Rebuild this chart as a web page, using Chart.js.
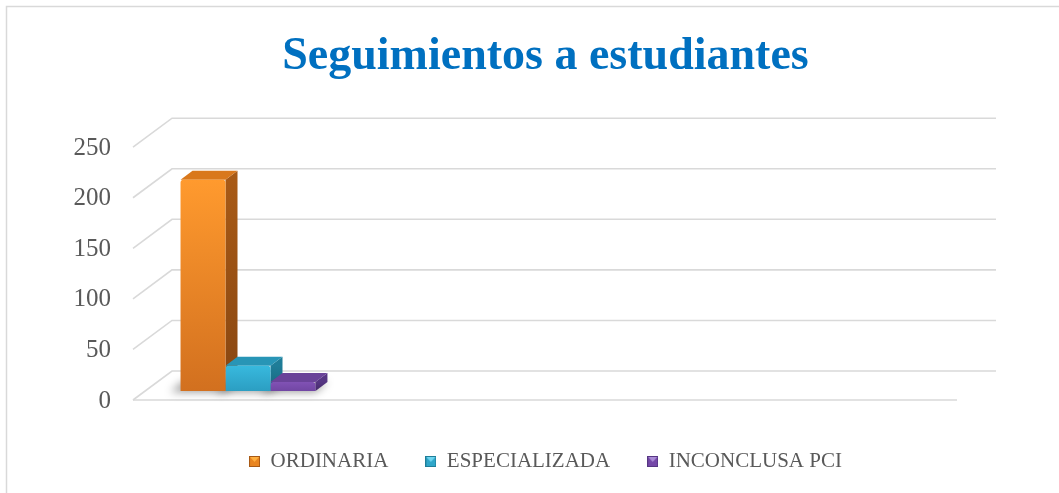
<!DOCTYPE html>
<html><head><meta charset="utf-8">
<script src="https://cdn.jsdelivr.net/npm/chart.js@4.4.1/dist/chart.umd.min.js"></script>
<style>html,body{margin:0;padding:0;background:#fff;} canvas{display:block}</style>
</head><body>
<canvas id="c" width="1059" height="493"></canvas>
<script>
// ---- data ----
const categories = ['', '', '', ''];
const seriesNames = ['ORDINARIA', 'ESPECIALIZADA', 'INCONCLUSA PCI'];
const ordinaria = [209, null, null, null];
const especializada = [25, null, null, null];
const inconclusa = [9, null, null, null];
const yTicks = [0, 50, 100, 150, 200, 250];
const titleText = 'Seguimientos a estudiantes';

// ---- styles ----
const palette = [
  {top:'#FF9A2E', bottom:'#D2701F', side:'#A85A16', sideDark:'#884611', cap:'#D9781C', legend:'#E98520', legendLight:'#FFB040'},
  {top:'#38B9DE', bottom:'#2B9EC2', side:'#1F7D98', sideDark:'#17657C', cap:'#2895B6', legend:'#2FA6C9', legendLight:'#6FD5F0'},
  {top:'#8152B5', bottom:'#7146A3', side:'#563683', sideDark:'#452A6B', cap:'#6A4399', legend:'#7548A8', legendLight:'#A98BD6'}
];
const FRONT = {dx:-12, dy:9};
const BACK = {dx:27, dy:-20};
const DEPTH = {dx:12, dy:-9};
const gridColor = '#D9D9D9';
const textColor = '#595959';

function makeMarker(p){
  const c = document.createElement('canvas');
  c.width = 11; c.height = 11;
  const g = c.getContext('2d');
  g.fillStyle = p.side; g.fillRect(0,0,11,11);
  g.fillStyle = p.legend; g.fillRect(1,1,9,9);
  g.fillStyle = p.legendLight;
  g.beginPath(); g.moveTo(1,1); g.lineTo(10,1); g.lineTo(5.5,6); g.closePath(); g.fill();
  return c;
}
const markers = palette.map(makeMarker);

function frontFill(i){
  return (ctx) => {
    const chart = ctx.chart;
    const p = palette[i];
    const ys = chart.scales && chart.scales.y;
    if (!ys || ctx.raw == null || !isFinite(ys.getPixelForValue(0))) return p.top;
    const t = ys.getPixelForValue(ctx.raw), b = ys.getPixelForValue(0);
    if (!(b > t)) return p.top;
    const g = chart.ctx.createLinearGradient(0, t, 0, b);
    g.addColorStop(0, p.top); g.addColorStop(1, p.bottom);
    return g;
  };
}

const borderPlugin = {
  id: 'frame',
  beforeDraw(chart){
    const c = chart.ctx;
    c.save();
    c.fillStyle = '#fff'; c.fillRect(0,0,chart.width,chart.height);
    c.strokeStyle = '#D9D9D9'; c.lineWidth = 1.5;
    c.strokeRect(6.5, 6.5, chart.width + 50, chart.height + 50);
    c.restore();
  }
};

const wallsPlugin = {
  id: 'walls3d',
  beforeDatasetsDraw(chart){
    const c = chart.ctx, ys = chart.scales.y, ca = chart.chartArea;
    c.save();
    c.strokeStyle = gridColor; c.lineWidth = 1.6;
    yTicks.forEach(v => {
      const yb = ys.getPixelForValue(v);
      c.beginPath();
      c.moveTo(ca.left + FRONT.dx, yb + FRONT.dy);
      c.lineTo(ca.left + BACK.dx, yb + BACK.dy);
      c.lineTo(ca.right + BACK.dx, yb + BACK.dy);
      c.stroke();
    });
    const y0 = ys.getPixelForValue(0);
    c.beginPath();
    c.moveTo(ca.left + FRONT.dx, y0 + FRONT.dy);
    c.lineTo(ca.right + FRONT.dx, y0 + FRONT.dy);
    c.stroke();

    // floor shadow under the bars
    c.save();
    c.filter = 'blur(4px)';
    c.fillStyle = 'rgba(0,0,0,0.4)';
    chart.data.datasets.forEach((ds, i) => {
      const meta = chart.getDatasetMeta(i);
      meta.data.forEach((el, j) => {
        if (ds.data[j] == null) return;
        const L = el.x - el.width/2 - 10, R = el.x + el.width/2;
        c.beginPath();
        c.moveTo(L, el.base + 1);
        c.lineTo(R, el.base + 1);
        c.lineTo(R + DEPTH.dx, el.base + DEPTH.dy);
        c.lineTo(L + DEPTH.dx, el.base + DEPTH.dy);
        c.closePath(); c.fill();
      });
    });
    c.restore();

    // side and top faces
    chart.data.datasets.forEach((ds, i) => {
      const p = palette[i];
      const meta = chart.getDatasetMeta(i);
      meta.data.forEach((el, j) => {
        if (ds.data[j] == null) return;
        const L = el.x - el.width/2, R = el.x + el.width/2, T = el.y, B = el.base;
        const sg = c.createLinearGradient(0, T, 0, B);
        sg.addColorStop(0, p.side); sg.addColorStop(1, p.sideDark);
        c.fillStyle = sg;
        c.beginPath();
        c.moveTo(R, T); c.lineTo(R + DEPTH.dx, T + DEPTH.dy);
        c.lineTo(R + DEPTH.dx, B + DEPTH.dy); c.lineTo(R, B);
        c.closePath(); c.fill();
        c.fillStyle = p.cap;
        c.beginPath();
        c.moveTo(L, T); c.lineTo(L + DEPTH.dx, T + DEPTH.dy);
        c.lineTo(R + DEPTH.dx, T + DEPTH.dy); c.lineTo(R, T);
        c.closePath(); c.fill();
      });
    });
    c.restore();
  }
};

const seriesValues = [ordinaria, especializada, inconclusa];

new Chart(document.getElementById('c'), {
  type: 'bar',
  data: {
    labels: categories,
    datasets: seriesNames.map((name, i) => ({
      label: name,
      data: seriesValues[i],
      backgroundColor: frontFill(i),
      borderWidth: 0,
      borderRadius: 3,
      borderSkipped: 'bottom',
      categoryPercentage: 0.655,
      barPercentage: 1.0
    }))
  },
  options: {
    responsive: false,
    devicePixelRatio: 1,
    animation: false,
    layout: { padding: { left: 32, right: 0, top: 0, bottom: 11 } },
    plugins: {
      tooltip: { enabled: false },
      title: {
        display: true,
        text: titleText,
        color: '#0070C0',
        font: { family: 'Liberation Serif', size: 46, weight: 'bold' },
        padding: { top: 30, bottom: 53 }
      },
      legend: {
        position: 'bottom',
        labels: {
          color: textColor,
          font: { family: 'Liberation Serif', size: 21 },
          padding: 37,
          boxWidth: 11,
          boxHeight: 11,
          usePointStyle: true,
          generateLabels: (chart) => chart.data.datasets.map((ds, i) => ({
            text: ds.label,
            fillStyle: palette[i].legend,
            strokeStyle: palette[i].side,
            lineWidth: 0,
            pointStyle: markers[i],
            hidden: false,
            datasetIndex: i,
            fontColor: textColor
          }))
        }
      }
    },
    scales: {
      x: {
        display: true,
        grid: { display: false, drawTicks: false },
        border: { display: false },
        ticks: { display: false },
        afterFit: (s) => { s.height = 23; }
      },
      y: {
        min: 0, max: 250,
        afterBuildTicks: (s) => { s.ticks = yTicks.map(v => ({ value: v })); },
        grid: { display: false, drawTicks: false },
        border: { display: false },
        ticks: { padding: 34, labelOffset: 10, color: textColor, font: { family: 'Liberation Serif', size: 25 } },
        afterFit: (s) => { s.width = 113; }
      },
      y2: {
        position: 'right',
        display: true,
        grid: { display: false, drawTicks: false },
        border: { display: false },
        ticks: { display: false },
        afterFit: (s) => { s.width = 90; }
      }
    }
  },
  plugins: [borderPlugin, wallsPlugin]
});
</script>
</body></html>
